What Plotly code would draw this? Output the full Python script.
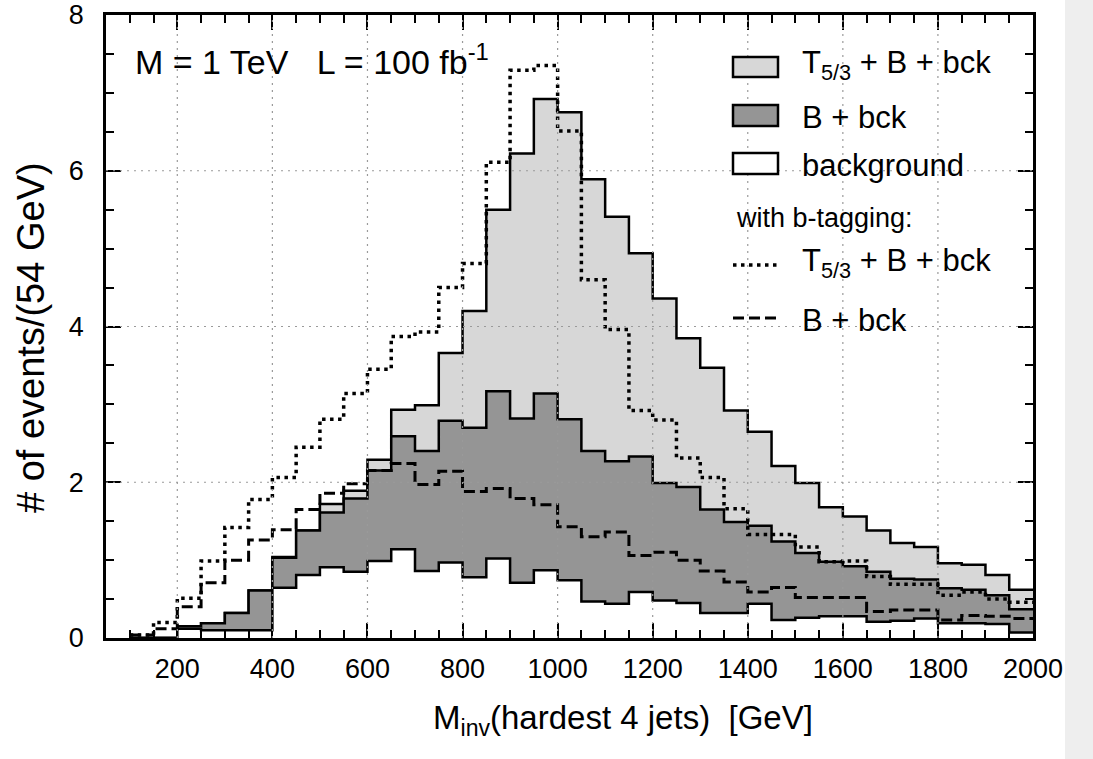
import plotly.graph_objects as go

# ---------------- data ----------------
BIN_EDGES = [100, 150, 200, 250, 300, 350, 400, 450, 500, 550, 600, 650, 700,
             750, 800, 850, 900, 950, 1000, 1050, 1100, 1150, 1200, 1250, 1300,
             1350, 1400, 1450, 1500, 1550, 1600, 1650, 1700, 1750, 1800, 1850,
             1900, 1950, 2000]

T53_B_BCK = [0.00, 0.00, 0.15, 0.19, 0.32, 0.61, 1.04, 1.38, 1.72, 1.89, 2.29,
             2.93, 2.99, 3.66, 4.20, 5.50, 6.22, 6.92, 6.75, 5.89, 5.41, 4.94,
             4.36, 3.85, 3.47, 2.92, 2.65, 2.21, 1.99, 1.68, 1.56, 1.38, 1.22,
             1.17, 0.96, 0.94, 0.81, 0.62]

B_BCK = [0.00, 0.00, 0.15, 0.19, 0.32, 0.61, 1.03, 1.38, 1.61, 1.79, 2.15,
         2.59, 2.40, 2.79, 2.70, 3.17, 2.82, 3.14, 2.81, 2.40, 2.27, 2.33,
         1.99, 1.94, 1.65, 1.49, 1.44, 1.24, 1.09, 0.98, 0.92, 0.85, 0.76,
         0.75, 0.64, 0.62, 0.55, 0.37]

BACKGROUND = [0.00, 0.00, 0.12, 0.10, 0.10, 0.10, 0.645, 0.81, 0.91, 0.85, 0.99,
              1.14, 0.86, 0.97, 0.78, 1.02, 0.71, 0.87, 0.74, 0.47, 0.44, 0.59,
              0.48, 0.45, 0.32, 0.32, 0.44, 0.23, 0.26, 0.28, 0.28, 0.21, 0.22,
              0.25, 0.19, 0.19, 0.18, 0.07]

BTAG_T53_B_BCK = [0.04, 0.20, 0.51, 0.99, 1.42, 1.78, 2.06, 2.45, 2.81, 3.14, 3.45,
                  3.87, 3.93, 4.50, 4.81, 6.11, 7.29, 7.35, 6.51, 4.60, 3.96, 2.92,
                  2.80, 2.31, 2.06, 1.66, 1.33, 1.33, 1.17, 0.98, 0.99, 0.79, 0.69,
                  0.69, 0.55, 0.59, 0.50, 0.46]

BTAG_B_BCK = [0.04, 0.12, 0.40, 0.71, 1.00, 1.26, 1.39, 1.65, 1.86, 1.98, 2.15,
              2.24, 1.97, 2.14, 1.88, 1.92, 1.79, 1.71, 1.43, 1.30, 1.36, 1.06,
              1.10, 1.00, 0.86, 0.72, 0.59, 0.65, 0.52, 0.52, 0.52, 0.34, 0.36,
              0.36, 0.23, 0.29, 0.28, 0.25]

X_TICKS = [200, 400, 600, 800, 1000, 1200, 1400, 1600, 1800, 2000]
Y_TICKS = [0, 2, 4, 6, 8]
X_GRID = [200, 400, 600, 800, 1000, 1200, 1400, 1600, 1800]
Y_GRID = [2, 4, 6]

LEGEND_FILLED = [("T<sub>5/3</sub> + B + bck", "#d7d7d7"),
                 ("B + bck", "#959595"),
                 ("background", "#ffffff")]
LEGEND_LINES = [("T<sub>5/3</sub> + B + bck", "3.5px,4.5px", 3.5),
                ("B + bck", "11px,5px", 3)]

FONT = "Liberation Sans, Arial, Helvetica, sans-serif"

# ---------------- figure ----------------
W, H = 1093, 759
ML, MR, MT, MB = 106, 60, 15, 121
PW, PH = W - ML - MR, H - MT - MB


def px_to_paper(px, py):
    return (px - ML) / PW, (H - MB - py) / PH


def step_y(vals):
    return list(vals) + [vals[-1]]


fig = go.Figure()

for vals, color in [(T53_B_BCK, "#d7d7d7"), (B_BCK, "#959595"), (BACKGROUND, "#ffffff")]:
    fig.add_trace(go.Scatter(
        x=BIN_EDGES, y=step_y(vals), mode="lines", line_shape="hv",
        line=dict(color="black", width=2.5), fill="tozeroy", fillcolor=color,
        showlegend=False, hoverinfo="skip"))

fig.add_trace(go.Scatter(
    x=BIN_EDGES, y=step_y(BTAG_B_BCK), mode="lines", line_shape="hv",
    line=dict(color="black", width=3, dash="11px,5px"),
    showlegend=False, hoverinfo="skip"))
fig.add_trace(go.Scatter(
    x=BIN_EDGES, y=step_y(BTAG_T53_B_BCK), mode="lines", line_shape="hv",
    line=dict(color="black", width=3.5, dash="3.5px,4.5px"),
    showlegend=False, hoverinfo="skip"))

shapes = []
# grid drawn above the filled histograms
for gx in X_GRID:
    shapes.append(dict(type="line", xref="x", yref="paper", x0=gx, x1=gx, y0=0, y1=1,
                       line=dict(color="#9a9a9a", width=1.2, dash="2px,5px"), layer="above"))
for gy in Y_GRID:
    shapes.append(dict(type="line", xref="paper", yref="y", x0=0, x1=1, y0=gy, y1=gy,
                       line=dict(color="#9a9a9a", width=1.2, dash="2px,5px"), layer="above"))

annotations = []
# legend: filled boxes
box_rows = [(57, 77), (105, 126), (153, 174)]
text_dy = [-4, 0, 0]
for (label, color), (ytop, ybot), dy in zip(LEGEND_FILLED, box_rows, text_dy):
    x0, y0 = px_to_paper(733, ybot)
    x1, y1 = px_to_paper(778, ytop)
    shapes.append(dict(type="rect", xref="paper", yref="paper", x0=x0, x1=x1, y0=y0, y1=y1,
                       fillcolor=color, line=dict(color="black", width=2.5), layer="above"))
    tx, ty = px_to_paper(800, (ytop + ybot) / 2 + 2 + dy)
    annotations.append(dict(text=label, x=tx, y=ty, xref="paper", yref="paper",
                            xanchor="left", yanchor="middle", showarrow=False,
                            font=dict(family=FONT, size=31, color="black")))

wx, wy = px_to_paper(734, 218)
annotations.append(dict(text="with b-tagging:", x=wx, y=wy, xref="paper", yref="paper",
                        xanchor="left", yanchor="middle", showarrow=False,
                        font=dict(family=FONT, size=27, color="black")))

for (label, dash, lw), yc, dy in zip(LEGEND_LINES, [265, 318], [-2, 2]):
    x0, yy = px_to_paper(733, yc)
    x1, _ = px_to_paper(778, yc)
    shapes.append(dict(type="line", xref="paper", yref="paper", x0=x0, x1=x1, y0=yy, y1=yy,
                       line=dict(color="black", width=lw, dash=dash), layer="above"))
    tx, ty = px_to_paper(800, yc + dy)
    annotations.append(dict(text=label, x=tx, y=ty, xref="paper", yref="paper",
                            xanchor="left", yanchor="middle", showarrow=False,
                            font=dict(family=FONT, size=31, color="black")))

# top-left label
mx, my = px_to_paper(133, 59)
annotations.append(dict(text="M = 1 TeV\u00a0\u00a0\u00a0L = 100 fb<sup>-1</sup>", x=mx, y=my,
                        xref="paper", yref="paper", xanchor="left", yanchor="middle",
                        showarrow=False, font=dict(family=FONT, size=34, color="black")))

# axis titles
axx, axy = px_to_paper(623, 720)
annotations.append(dict(text="M<sub>inv</sub>(hardest 4 jets)\u00a0\u00a0[GeV]", x=axx, y=axy,
                        xref="paper", yref="paper", xanchor="center", yanchor="middle",
                        showarrow=False, font=dict(family=FONT, size=33, color="black")))
ayx, ayy = px_to_paper(31, 338)
annotations.append(dict(text="# of events/(54 GeV)", x=ayx, y=ayy, textangle=-90,
                        xref="paper", yref="paper", xanchor="center", yanchor="middle",
                        showarrow=False, font=dict(family=FONT, size=38, color="black")))

# page strip at the right edge
sx0, _ = px_to_paper(1065, 0)
sx1, _ = px_to_paper(1100, 0)
shapes.append(dict(type="rect", xref="paper", yref="paper", x0=sx0, x1=sx1, y0=-0.3, y1=1.1,
                   fillcolor="#eeeeee", line=dict(width=0), layer="below"))

axis_common = dict(showline=True, linecolor="black", linewidth=2.5, mirror="ticks",
                   ticks="inside", ticklen=15, tickwidth=2, tickcolor="black",
                   showgrid=False, zeroline=False, layer="above traces", automargin=False,
                   tickfont=dict(family=FONT, size=27, color="black"))

fig.update_layout(
    width=W, height=H,
    margin=dict(l=ML, r=MR, t=MT, b=MB, pad=0, autoexpand=False),
    paper_bgcolor="white", plot_bgcolor="white",
    xaxis=dict(range=[50, 2000], tickvals=X_TICKS, ticktext=[str(v) for v in X_TICKS],
               minor=dict(dtick=50, tick0=0, ticks="inside", ticklen=8, tickwidth=1.5,
                          tickcolor="black", showgrid=False),
               ticklabelstandoff=5, **axis_common),
    yaxis=dict(range=[0, 8], tickvals=Y_TICKS, ticktext=[str(v) for v in Y_TICKS],
               minor=dict(dtick=0.5, tick0=0, ticks="inside", ticklen=8, tickwidth=1.5,
                          tickcolor="black", showgrid=False),
               ticklabelstandoff=14, **axis_common),
    shapes=shapes, annotations=annotations, showlegend=False,
)

fig.write_html("out.html")
